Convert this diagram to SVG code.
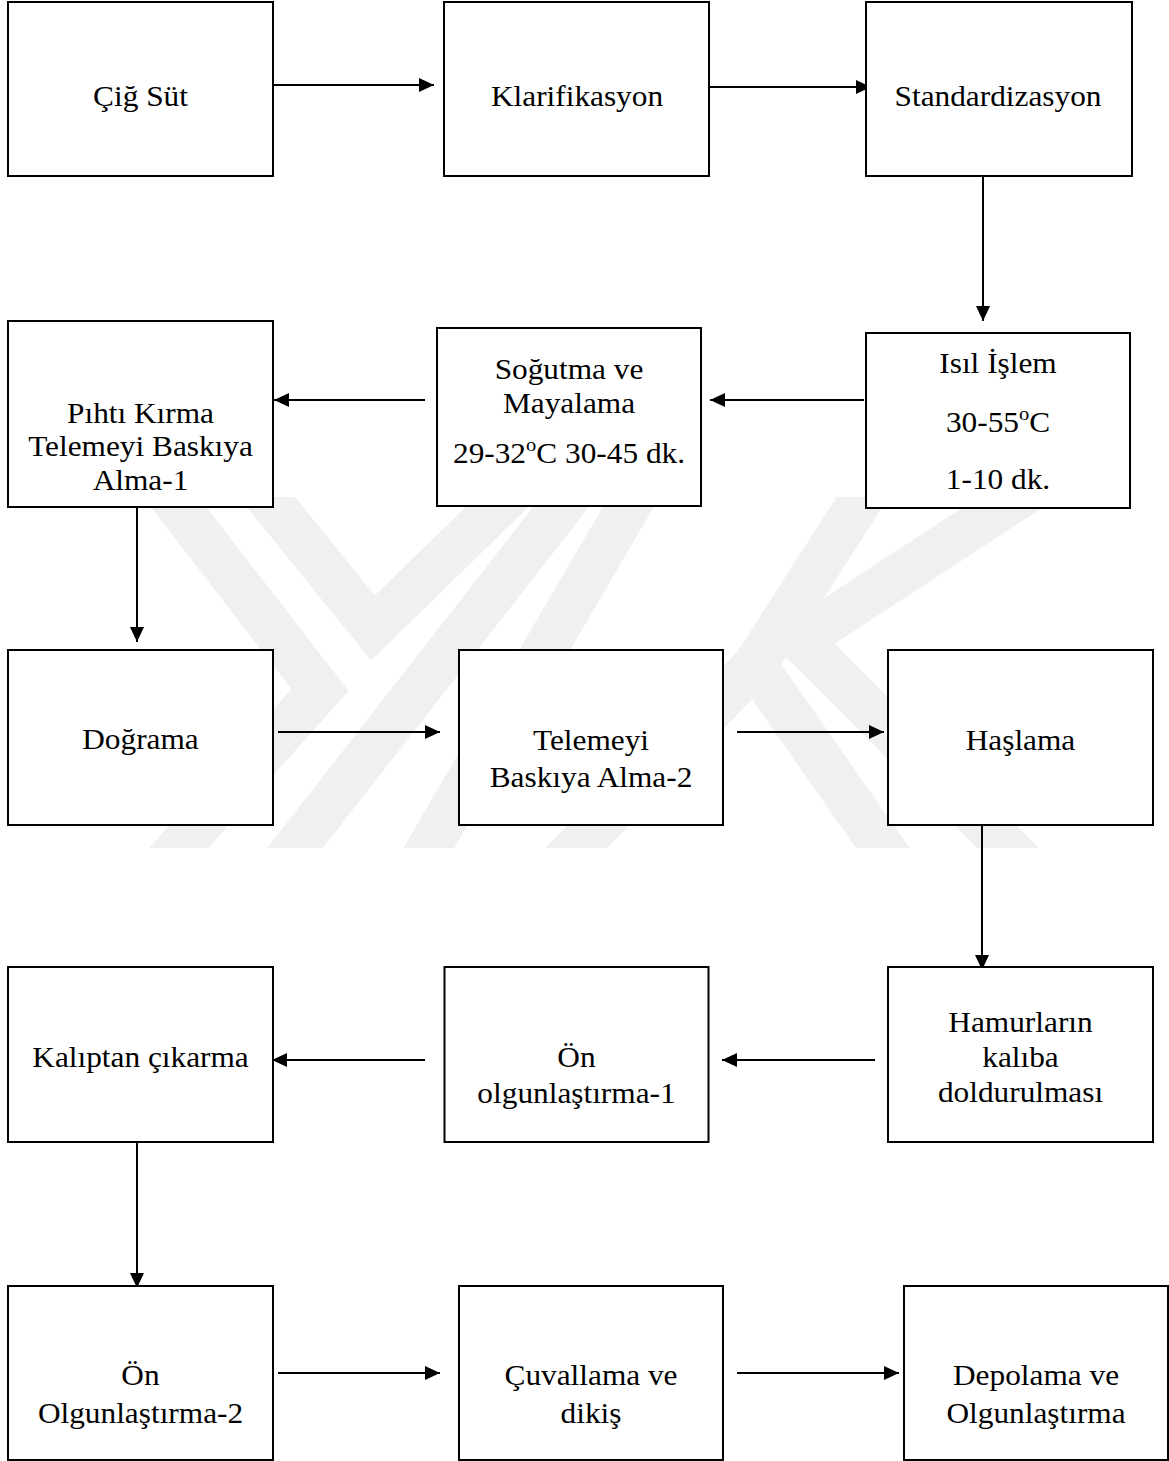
<svg xmlns="http://www.w3.org/2000/svg" width="1169" height="1461" viewBox="0 0 1169 1461">
<style>
.box{fill:#fff;stroke:#000;stroke-width:2}
.lbl{font-family:"Liberation Serif","Times New Roman",serif;font-size:29px;fill:#000;text-anchor:middle}
.con{stroke:#000;stroke-width:2;fill:none}
.wm{stroke:#f0f0f0;stroke-width:44;fill:none;stroke-linejoin:miter;stroke-miterlimit:10}
</style>
<defs>
<marker id="ah" markerUnits="userSpaceOnUse" markerWidth="16" markerHeight="14" refX="15" refY="7" orient="auto">
<path d="M0,0 L15,7 L0,14 z" fill="#000"/>
</marker>
<clipPath id="wmclip"><rect x="0" y="497" width="1169" height="351"/></clipPath>
</defs>
<rect width="1169" height="1461" fill="#fff"/>
<g id="watermark" clip-path="url(#wmclip)">
<polyline class="wm" points="150,470 320,690 150,880"/>
<polyline class="wm" points="245,470 373,628 535,470"/>
<polyline class="wm" points="590,470 270,880"/>
<polyline class="wm" points="650,470 410,880"/>
<polyline class="wm" points="880,470 755,665 905,880"/>
<polyline class="wm" points="755,665 545,880"/>
<polyline class="wm" points="1060,470 800,640 1040,880"/>
</g>
<g id="connectors">
<line class="con" x1="273" y1="85" x2="434" y2="85" marker-end="url(#ah)"/>
<line class="con" x1="709" y1="87" x2="871" y2="87" marker-end="url(#ah)"/>
<line class="con" x1="983" y1="176" x2="983" y2="321" marker-end="url(#ah)"/>
<line class="con" x1="864" y1="400" x2="710" y2="400" marker-end="url(#ah)"/>
<line class="con" x1="425" y1="400" x2="274" y2="400" marker-end="url(#ah)"/>
<line class="con" x1="137" y1="507" x2="137" y2="642" marker-end="url(#ah)"/>
<line class="con" x1="278" y1="732" x2="440" y2="732" marker-end="url(#ah)"/>
<line class="con" x1="737" y1="732" x2="884" y2="732" marker-end="url(#ah)"/>
<line class="con" x1="982" y1="825" x2="982" y2="970" marker-end="url(#ah)"/>
<line class="con" x1="875" y1="1060" x2="722" y2="1060" marker-end="url(#ah)"/>
<line class="con" x1="425" y1="1060" x2="272" y2="1060" marker-end="url(#ah)"/>
<line class="con" x1="137" y1="1142" x2="137" y2="1288" marker-end="url(#ah)"/>
<line class="con" x1="278" y1="1373" x2="440" y2="1373" marker-end="url(#ah)"/>
<line class="con" x1="737" y1="1373" x2="899" y2="1373" marker-end="url(#ah)"/>
</g>
<g id="n1"><rect class="box" x="8" y="2" width="265" height="174"/>
<g transform="translate(140.5,0) scale(1.08,1)"><text class="lbl" x="0" y="106">Çiğ Süt</text></g></g>
<g id="n2"><rect class="box" x="444" y="2" width="265" height="174"/>
<g transform="translate(577,0) scale(1.08,1)"><text class="lbl" x="0" y="106">Klarifikasyon</text></g></g>
<g id="n3"><rect class="box" x="866" y="2" width="266" height="174"/>
<g transform="translate(998,0) scale(1.08,1)"><text class="lbl" x="0" y="106">Standardizasyon</text></g></g>
<g id="n4"><rect class="box" x="866" y="333" width="264" height="175"/>
<g transform="translate(998,0) scale(1.08,1)"><text class="lbl" x="0" y="373">Isıl İşlem</text>
<text class="lbl" x="0" y="432">30-55<tspan font-size="19" dy="-12">o</tspan><tspan dy="12">C</tspan></text>
<text class="lbl" x="0" y="489">1-10 dk.</text></g></g>
<g id="n5"><rect class="box" x="437" y="328" width="264" height="178"/>
<g transform="translate(569,0) scale(1.08,1)"><text class="lbl" x="0" y="379">Soğutma ve</text>
<text class="lbl" x="0" y="413">Mayalama</text>
<text class="lbl" x="0" y="463">29-32<tspan font-size="19" dy="-12">o</tspan><tspan dy="12">C 30-45 dk.</tspan></text></g></g>
<g id="n6"><rect class="box" x="8" y="321" width="265" height="186"/>
<g transform="translate(140.5,0) scale(1.08,1)"><text class="lbl" x="0" y="423">Pıhtı Kırma</text>
<text class="lbl" x="0" y="456">Telemeyi Baskıya</text>
<text class="lbl" x="0" y="490">Alma-1</text></g></g>
<g id="n7"><rect class="box" x="8" y="650" width="265" height="175"/>
<g transform="translate(140.5,0) scale(1.08,1)"><text class="lbl" x="0" y="749">Doğrama</text></g></g>
<g id="n8"><rect class="box" x="459" y="650" width="264" height="175"/>
<g transform="translate(591,0) scale(1.08,1)"><text class="lbl" x="0" y="750">Telemeyi</text>
<text class="lbl" x="0" y="787">Baskıya Alma-2</text></g></g>
<g id="n9"><rect class="box" x="888" y="650" width="265" height="175"/>
<g transform="translate(1020.5,0) scale(1.08,1)"><text class="lbl" x="0" y="750">Haşlama</text></g></g>
<g id="n10"><rect class="box" x="888" y="967" width="265" height="175"/>
<g transform="translate(1020.5,0) scale(1.08,1)"><text class="lbl" x="0" y="1032">Hamurların</text>
<text class="lbl" x="0" y="1067">kalıba</text>
<text class="lbl" x="0" y="1102">doldurulması</text></g></g>
<g id="n11"><rect class="box" x="444.5" y="967" width="264" height="175"/>
<g transform="translate(576.5,0) scale(1.08,1)"><text class="lbl" x="0" y="1067">Ön</text>
<text class="lbl" x="0" y="1103">olgunlaştırma-1</text></g></g>
<g id="n12"><rect class="box" x="8" y="967" width="265" height="175"/>
<g transform="translate(140.5,0) scale(1.08,1)"><text class="lbl" x="0" y="1067">Kalıptan çıkarma</text></g></g>
<g id="n13"><rect class="box" x="8" y="1286" width="265" height="174"/>
<g transform="translate(140.5,0) scale(1.08,1)"><text class="lbl" x="0" y="1385">Ön</text>
<text class="lbl" x="0" y="1423">Olgunlaştırma-2</text></g></g>
<g id="n14"><rect class="box" x="459" y="1286" width="264" height="174"/>
<g transform="translate(591,0) scale(1.08,1)"><text class="lbl" x="0" y="1385">Çuvallama ve</text>
<text class="lbl" x="0" y="1423">dikiş</text></g></g>
<g id="n15"><rect class="box" x="904" y="1286" width="264" height="174"/>
<g transform="translate(1036,0) scale(1.08,1)"><text class="lbl" x="0" y="1385">Depolama ve</text>
<text class="lbl" x="0" y="1423">Olgunlaştırma</text></g></g>
</svg>
